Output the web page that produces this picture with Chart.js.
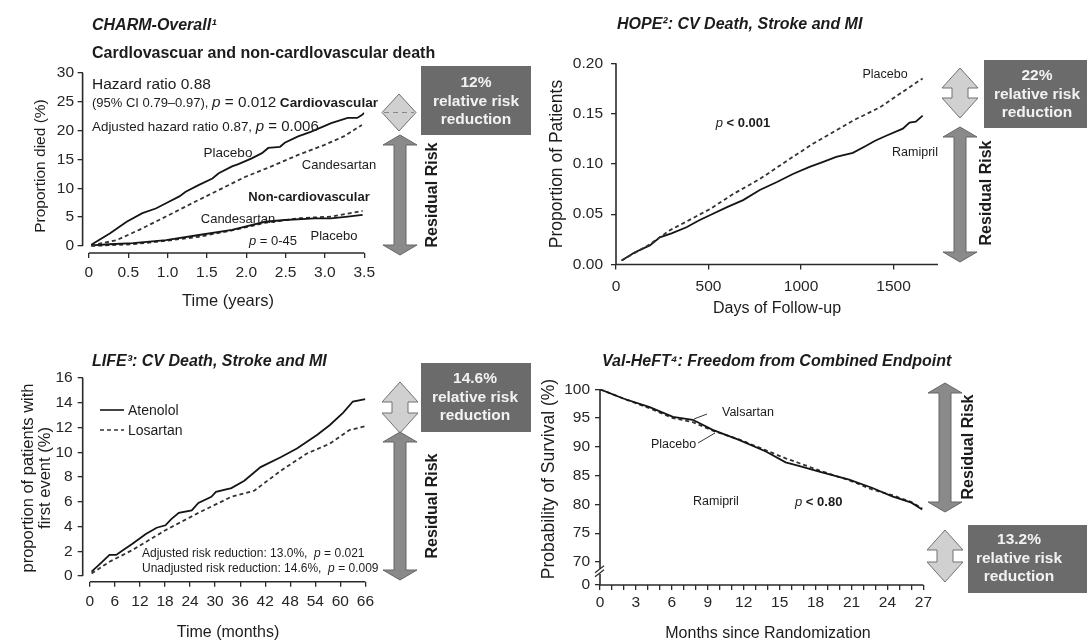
<!DOCTYPE html>
<html>
<head>
<meta charset="utf-8">
<script src="https://cdn.jsdelivr.net/npm/chart.js@4.4.0/dist/chart.umd.min.js"></script>
<style>
  body { margin: 0; background: #fff; font-family: 'Liberation Sans', Arial, Helvetica, sans-serif; color: #1c1c1c; }
  #wrap { position: relative; width: 1087px; height: 640px; overflow: hidden; background: #fff; }
  canvas { position: absolute; }
  svg { position: absolute; left: 0; top: 0; }
  .t { position: absolute; white-space: nowrap; line-height: 1; }
  .c { transform: translate(-50%, -50%); }
  .l { transform: translate(0, -50%); }
  .rot { transform: translate(-50%, -50%) rotate(-90deg); }
  .title { font-weight: bold; font-style: italic; font-size: 16px; }
  .rr { font-weight: bold; font-size: 16px; }
  .box { position: absolute; background: #6b6b6b; }
  .bt { position: absolute; transform: translate(-50%, -50%); text-align: center; color: #f2f2f2;
        font-weight: bold; font-size: 15.5px; line-height: 18.5px; white-space: nowrap; }
</style>
</head>
<body>
<div id="wrap">
  <canvas id="charm" width="380" height="225" style="left:0;top:60px"></canvas>
  <canvas id="hope" width="410" height="250" style="left:540px;top:45px"></canvas>
  <canvas id="life" width="380" height="255" style="left:0;top:360px"></canvas>
  <canvas id="valheft" width="395" height="245" style="left:540px;top:370px"></canvas>
  <svg id="deco" width="1087" height="640"></svg>

  <!-- CHARM -->
  <div class="t l title" style="left:92px;top:25px">CHARM-Overall¹</div>
  <div class="t l" style="left:92px;top:53px;font-weight:bold;font-size:16px">Cardlovascuar and non-cardlovascular death</div>
  <div class="t l" style="left:92px;top:84px;font-size:15.5px">Hazard ratio 0.88</div>
  <div class="t l" style="left:92px;top:102px;font-size:13px">(95% CI 0.79–0.97), <span style="font-size:15.3px"><i>p</i> = 0.012</span> <b style="font-size:13.6px">Cardiovascular</b></div>
  <div class="t l" style="left:92px;top:126px;font-size:13.4px">Adjusted hazard ratio 0.87, <span style="font-size:15px"><i>p</i> = 0.006</span></div>
  <div class="t c" style="left:228px;top:153px;font-size:13.5px">Placebo</div>
  <div class="t c" style="left:339px;top:164px;font-size:13px">Candesartan</div>
  <div class="t c" style="left:309px;top:196px;font-size:13px;font-weight:bold">Non-cardiovascular</div>
  <div class="t c" style="left:238px;top:218px;font-size:13px">Candesartan</div>
  <div class="t c" style="left:273px;top:240px;font-size:13px"><i>p</i> = 0-45</div>
  <div class="t c" style="left:334px;top:235px;font-size:13px">Placebo</div>
  <div class="t c" style="left:228px;top:300px;font-size:16.5px">Time (years)</div>
  <div class="t rot" style="left:40px;top:166px;font-size:15.5px">Proportion died (%)</div>

  <!-- HOPE -->
  <div class="t l title" style="left:617px;top:24px">HOPE²: CV Death, Stroke and MI</div>
  <div class="t c" style="left:885px;top:74px;font-size:12.5px">Placebo</div>
  <div class="t c" style="left:915px;top:152px;font-size:12.5px">Ramipril</div>
  <div class="t c" style="left:743px;top:122px;font-size:13px"><i>p</i> <b>&lt; 0.001</b></div>
  <div class="t c" style="left:777px;top:308px;font-size:16px">Days of Follow-up</div>
  <div class="t rot" style="left:557px;top:164px;font-size:17.5px">Proportion of Patients</div>

  <!-- LIFE -->
  <div class="t l title" style="left:92px;top:361px">LIFE³: CV Death, Stroke and MI</div>
  <div class="t l" style="left:128px;top:410px;font-size:14px">Atenolol</div>
  <div class="t l" style="left:128px;top:430px;font-size:14px">Losartan</div>
  <div class="t l" style="left:142px;top:553px;font-size:12px">Adjusted risk reduction: 13.0%,&nbsp; <i>p</i> = 0.021</div>
  <div class="t l" style="left:142px;top:568px;font-size:12px">Unadjusted risk reduction: 14.6%,&nbsp; <i>p</i> = 0.009</div>
  <div class="t c" style="left:228px;top:632px;font-size:16px">Time (months)</div>
  <div class="t rot" style="left:36px;top:478px;font-size:16.5px;text-align:center;line-height:17px">proportion of patients with<br>first event (%)</div>

  <!-- Val-HeFT -->
  <div class="t l title" style="left:602px;top:361px">Val-HeFT⁴: Freedom from Combined Endpoint</div>
  <div class="t l" style="left:722px;top:412px;font-size:12.5px">Valsartan</div>
  <div class="t l" style="left:651px;top:444px;font-size:12.5px">Placebo</div>
  <div class="t l" style="left:693px;top:501px;font-size:12.5px">Ramipril</div>
  <div class="t l" style="left:795px;top:501px;font-size:13px"><i>p</i> <b>&lt; 0.80</b></div>
  <div class="t c" style="left:768px;top:633px;font-size:16px">Months since Randomization</div>
  <div class="t rot" style="left:549px;top:479px;font-size:17.5px">Probability of Survival (%)</div>

  <!-- risk boxes -->
  <div class="box" style="left:421px;top:66px;width:110px;height:69px"></div>
  <div class="bt" style="left:476px;top:101px">12%<br>relative risk<br>reduction</div>
  <div class="box" style="left:984px;top:60px;width:103px;height:68px"></div>
  <div class="bt" style="left:1037px;top:94px">22%<br>relative risk<br>reduction</div>
  <div class="box" style="left:421px;top:363px;width:110px;height:69px"></div>
  <div class="bt" style="left:475px;top:397px">14.6%<br>relative risk<br>reduction</div>
  <div class="box" style="left:968px;top:525px;width:119px;height:68px"></div>
  <div class="bt" style="left:1019px;top:558px">13.2%<br>relative risk<br>reduction</div>

  <div class="t rot rr" style="left:432px;top:195px">Residual Risk</div>
  <div class="t rot rr" style="left:986px;top:193px">Residual Risk</div>
  <div class="t rot rr" style="left:432px;top:506px">Residual Risk</div>
  <div class="t rot rr" style="left:968px;top:447px">Residual Risk</div>
</div>

<script>
// CHARM-Overall, proportion died (%) vs time (years)
const charmCvPlaceboT = [0.03, 0.27, 0.48, 0.68, 0.85, 0.98, 1.15, 1.23, 1.4, 1.57, 1.65, 1.82, 1.9, 2.07, 2.2, 2.28, 2.43, 2.49, 2.66, 2.82, 3.08, 3.29, 3.41, 3.47, 3.5];
const charmCvPlaceboV = [0.2, 2.2, 4.2, 5.7, 6.5, 7.4, 8.6, 9.4, 10.6, 11.7, 12.6, 13.8, 14.2, 15.2, 16.1, 17.0, 17.2, 17.9, 19.0, 19.8, 21.3, 22.2, 22.2, 22.7, 23.1];
const charmCvCandT = [0.03, 0.35, 0.64, 0.98, 1.31, 1.65, 1.99, 2.32, 2.66, 2.99, 3.24, 3.47];
const charmCvCandV = [0.1, 1.0, 2.8, 5.1, 7.4, 9.7, 12.0, 13.8, 15.8, 17.5, 19.0, 21.0];
const charmNonPlaceboT = [0.03, 0.26, 0.56, 0.98, 1.4, 1.82, 2.24, 2.49, 2.87, 3.08, 3.29, 3.48];
const charmNonPlaceboV = [0.1, 0.3, 0.5, 1.0, 1.9, 2.8, 4.2, 4.5, 4.8, 4.8, 5.1, 5.4];
const charmNonCandT = [0.03, 0.56, 0.98, 1.4, 1.82, 2.24, 2.66, 3.08, 3.48];
const charmNonCandV = [0.0, 0.3, 0.9, 1.6, 2.7, 4.0, 4.8, 5.1, 6.1];
const charmXTicks = [0, 0.5, 1, 1.5, 2, 2.5, 3, 3.5];
const charmYTicks = [0, 5, 10, 15, 20, 25, 30];

// HOPE, proportion of patients vs days of follow-up
const hopePlaceboT = [30, 174, 291, 507, 633, 777, 956, 1064, 1280, 1424, 1657];
const hopePlaceboV = [0.004, 0.019, 0.034, 0.055, 0.070, 0.085, 0.107, 0.120, 0.143, 0.156, 0.185];
const hopeRamiprilT = [30, 100, 183, 237, 300, 381, 450, 507, 600, 687, 777, 870, 956, 1046, 1120, 1190, 1280, 1352, 1400, 1460, 1550, 1586, 1620, 1657];
const hopeRamiprilV = [0.004, 0.012, 0.019, 0.027, 0.031, 0.037, 0.044, 0.049, 0.057, 0.064, 0.074, 0.082, 0.090, 0.097, 0.102, 0.107, 0.111, 0.118, 0.123, 0.128, 0.135, 0.141, 0.142, 0.148];
const hopeXTicks = [0, 500, 1000, 1500];
const hopeYTicks = [0, 0.05, 0.10, 0.15, 0.20];

// LIFE, proportion with first event (%) vs months
const lifeAtenololT = [0.4, 2.5, 4.7, 6.3, 8, 10.2, 13.4, 16, 18.1, 19.5, 21.3, 24.4, 26, 29.1, 30.2, 33.9, 37, 40.9, 45.7, 49.6, 54.4, 57.5, 60.7, 63, 66];
const lifeAtenololV = [0.35, 1.0, 1.7, 1.7, 2.1, 2.6, 3.4, 3.9, 4.1, 4.6, 5.1, 5.3, 5.9, 6.4, 6.8, 7.1, 7.7, 8.8, 9.6, 10.3, 11.4, 12.2, 13.2, 14.1, 14.3];
const lifeLosartanT = [0.4, 4.7, 10.2, 18.1, 26, 33.9, 39.4, 45.7, 52, 57.5, 62.2, 66];
const lifeLosartanV = [0.2, 1.15, 2.1, 3.7, 5.1, 6.4, 6.9, 8.5, 9.9, 10.7, 11.8, 12.1];
const lifeXTicks = [0, 6, 12, 18, 24, 30, 36, 42, 48, 54, 60, 66];
const lifeYTicks = [0, 2, 4, 6, 8, 10, 12, 14, 16];

// Val-HeFT, probability of survival (%) vs months since randomization
const valT = [0, 1.94, 4.15, 6.09, 7.75, 9.41, 11.6, 13.85, 15.5, 16.6, 18.3, 20.8, 22.7, 24.4, 26.0, 26.9];
const valValsartanV = [100, 98.4, 96.9, 95.2, 94.7, 92.96, 91.2, 89.2, 87.3, 86.7, 85.7, 84.3, 82.9, 81.4, 80.3, 79.1];
const valPlaceboV = [100, 98.4, 96.7, 95.0, 94.3, 92.8, 91.3, 89.4, 88.0, 87.2, 85.9, 84.2, 82.6, 81.6, 80.4, 79.3];
const valXTicks = [0, 1, 2, 3, 4, 5, 6, 7, 8, 9, 10, 11, 12, 13, 14, 15, 16, 17, 18, 19, 20, 21, 22, 23, 24, 25, 26, 27];
const valYTicks = [66, 70, 75, 80, 85, 90, 95, 100];   // 66 stands for the broken-axis "0"

Chart.defaults.font.family = "'Liberation Sans', Arial, Helvetica, sans-serif";
Chart.defaults.font.size = 15.5;
Chart.defaults.color = '#262626';

function lineSet(ts, vs, dashed) {
  return {
    data: ts.map((t, i) => ({ x: t, y: vs[i] })),
    borderColor: dashed ? '#333' : '#151515',
    borderWidth: 1.8,
    borderDash: dashed ? [4, 3] : [],
    pointRadius: 0,
    tension: 0,
    fill: false
  };
}

// axis lines drawn apart from each other like the original figure
function axisLinesPlugin(xLine, yLine, breakAt) {
  return {
    id: 'axisLines',
    afterDraw(chart) {
      const { ctx, chartArea: a, scales: { x, y } } = chart;
      ctx.save();
      ctx.strokeStyle = '#2a2a2a';
      ctx.lineWidth = 1.6;
      ctx.beginPath();
      ctx.moveTo(x.getPixelForValue(xLine[0]), a.bottom);
      ctx.lineTo(x.getPixelForValue(xLine[1]), a.bottom);
      ctx.moveTo(a.left, y.getPixelForValue(yLine[0]));
      ctx.lineTo(a.left, y.getPixelForValue(yLine[1]));
      ctx.stroke();
      if (breakAt !== undefined) {
        const py = y.getPixelForValue(breakAt);
        ctx.fillStyle = '#fff';
        ctx.fillRect(a.left - 3, py - 3, 6, 5);
        ctx.lineWidth = 1.2;
        ctx.beginPath();
        ctx.moveTo(a.left - 5, py + 1); ctx.lineTo(a.left + 4, py - 6);
        ctx.moveTo(a.left - 5, py + 5); ctx.lineTo(a.left + 4, py - 2);
        ctx.stroke();
      }
      ctx.restore();
    }
  };
}

function makeChart(id, c) {
  return new Chart(document.getElementById(id), {
    type: 'line',
    data: { datasets: c.datasets },
    options: {
      responsive: false,
      animation: false,
      devicePixelRatio: 1,
      layout: { padding: { top: c.padTop, right: c.padRight, left: 0, bottom: 0 } },
      plugins: { legend: { display: false }, tooltip: { enabled: false } },
      scales: {
        x: {
          type: 'linear', min: c.xMin, max: c.xMax,
          afterBuildTicks: s => { s.ticks = c.xTicks.map(v => ({ value: v })); },
          afterFit: s => { s.height = c.xH; },
          grid: { drawOnChartArea: false, tickLength: 5, color: '#2a2a2a', lineWidth: 1.3 },
          border: { display: false },
          ticks: { autoSkip: false, maxRotation: 0, padding: c.xPad, color: '#262626', callback: c.xFmt }
        },
        y: {
          type: 'linear', min: c.yMin, max: c.yMax,
          afterBuildTicks: s => { s.ticks = c.yTicks.map(v => ({ value: v })); },
          afterFit: s => { s.width = c.yW; },
          grid: { drawOnChartArea: false, tickLength: 5, color: '#2a2a2a', lineWidth: 1.3 },
          border: { display: false },
          ticks: { autoSkip: false, padding: c.yPad, color: '#262626', callback: c.yFmt }
        }
      }
    },
    plugins: [axisLinesPlugin(c.xLine, c.yLine, c.breakAt)]
  });
}

const plain = v => String(v);

makeChart('charm', {
  datasets: [
    lineSet(charmCvPlaceboT, charmCvPlaceboV, false),
    lineSet(charmCvCandT, charmCvCandV, true),
    lineSet(charmNonPlaceboT, charmNonPlaceboV, false),
    lineSet(charmNonCandT, charmNonCandV, true)
  ],
  xMin: -0.08, xMax: 3.5, yMin: -1.22, yMax: 30,
  xTicks: charmXTicks, yTicks: charmYTicks,
  xFmt: v => v === 0 ? '0' : v.toFixed(1), yFmt: plain,
  padTop: 13, padRight: 13, xH: 32, yW: 82.6, xPad: 5, yPad: 3.5,
  xLine: [0, 3.5], yLine: [0, 30]
});

makeChart('hope', {
  datasets: [
    lineSet(hopePlaceboT, hopePlaceboV, true),
    lineSet(hopeRamiprilT, hopeRamiprilV, false)
  ],
  xMin: 0, xMax: 1740, yMin: 0, yMax: 0.2,
  xTicks: hopeXTicks, yTicks: hopeYTicks,
  xFmt: plain, yFmt: v => v.toFixed(2),
  padTop: 18.3, padRight: 12, xH: 30.5, yW: 76, xPad: 8, yPad: 8,
  xLine: [0, 1740], yLine: [0, 0.2]
});

makeChart('life', {
  datasets: [
    lineSet(lifeAtenololT, lifeAtenololV, false),
    lineSet(lifeLosartanT, lifeLosartanV, true)
  ],
  xMin: -1.72, xMax: 66, yMin: -0.46, yMax: 16,
  xTicks: lifeXTicks, yTicks: lifeYTicks,
  xFmt: plain, yFmt: plain,
  padTop: 18, padRight: 10.7, xH: 33.3, yW: 82.7, xPad: 6, yPad: 5,
  xLine: [0, 66], yLine: [0, 16]
});

makeChart('valheft', {
  datasets: [
    lineSet(valT, valValsartanV, false),
    lineSet(valT, valPlaceboV, true)
  ],
  xMin: 0, xMax: 27, yMin: 66, yMax: 100,
  xTicks: valXTicks, yTicks: valYTicks,
  xFmt: v => v % 3 === 0 ? String(v) : '', yFmt: v => v === 66 ? '0' : String(v),
  padTop: 19.3, padRight: 10, xH: 30, yW: 60, xPad: 3, yPad: 5,
  xLine: [0, 27], yLine: [66, 100], breakAt: 68.3
});

// arrows and small leader lines
const svg = document.getElementById('deco');
const NS = 'http://www.w3.org/2000/svg';
function add(tag, attrs) {
  const el = document.createElementNS(NS, tag);
  for (const k in attrs) el.setAttribute(k, attrs[k]);
  svg.appendChild(el);
}
function arrowPts(cx, top, bottom, hw, hh, sw) {
  return [[cx, top], [cx + hw, top + hh], [cx + sw, top + hh], [cx + sw, bottom - hh], [cx + hw, bottom - hh],
          [cx, bottom], [cx - hw, bottom - hh], [cx - sw, bottom - hh], [cx - sw, top + hh], [cx - hw, top + hh]]
    .map(p => p.join(',')).join(' ');
}
function darkArrow(cx, top, bottom) {
  add('polygon', { points: arrowPts(cx, top, bottom, 17, 10, 6), fill: '#8a8a8a', stroke: '#666', 'stroke-width': 1 });
}
function lightArrow(cx, top, bottom) {
  add('polygon', { points: arrowPts(cx, top, bottom, 18, 20, 8), fill: '#d0d0d0', stroke: '#707070', 'stroke-width': 1 });
}

// CHARM: diamond with dashed waist
add('polygon', { points: [[399, 94], [416, 112.5], [399, 131], [382, 112.5]].map(p => p.join(',')).join(' '),
  fill: '#d0d0d0', stroke: '#707070', 'stroke-width': 1 });
add('line', { x1: 384, y1: 112.5, x2: 414, y2: 112.5, stroke: '#888', 'stroke-width': 1, 'stroke-dasharray': '5,4' });
darkArrow(400, 135, 255);

lightArrow(960, 68, 118);
darkArrow(960, 127, 262);

lightArrow(400, 382, 433);
darkArrow(400, 432, 580);

darkArrow(945, 383, 512);
lightArrow(945, 530, 582);

// LIFE legend samples
add('line', { x1: 100, y1: 410, x2: 124, y2: 410, stroke: '#151515', 'stroke-width': 1.6 });
add('line', { x1: 100, y1: 430, x2: 124, y2: 430, stroke: '#333', 'stroke-width': 1.6, 'stroke-dasharray': '4,3' });

// Val-HeFT leader lines
add('line', { x1: 694, y1: 419, x2: 707, y2: 414, stroke: '#333', 'stroke-width': 1 });
add('line', { x1: 698, y1: 443, x2: 715, y2: 433, stroke: '#333', 'stroke-width': 1 });
</script>
</body>
</html>
